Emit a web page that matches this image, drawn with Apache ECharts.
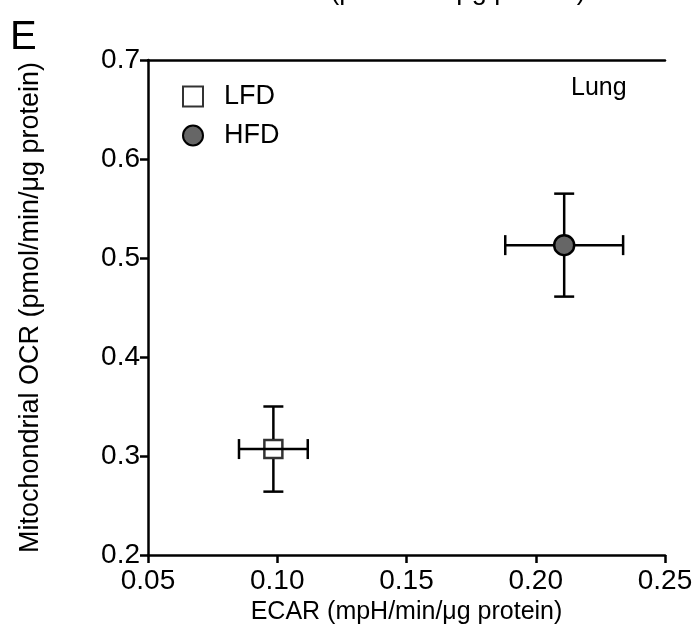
<!DOCTYPE html>
<html>
<head>
<meta charset="utf-8">
<script src="https://cdn.jsdelivr.net/npm/echarts@6/dist/echarts.min.js"></script>
<style>html,body{margin:0;padding:0;background:#fff}#c{width:697px;height:634px}</style>
</head>
<body>
<div id="c"></div>
<script>
// Data
var groups = ['LFD', 'HFD'];
var ecarMean = [0.0985, 0.211];
var ecarErr = [0.0133, 0.0228];
var ocrMean = [0.307, 0.513];
var ocrErr = [0.043, 0.052];
var xTicks = [0.05, 0.10, 0.15, 0.20, 0.25];
var yTicks = [0.2, 0.3, 0.4, 0.5, 0.6, 0.7];

var FONT = 'Liberation Sans, Arial, Helvetica, sans-serif';
var chart = echarts.init(document.getElementById('c'), null, {renderer: 'canvas'});

function errData(i) {
  return [[ecarMean[i], ocrMean[i], ecarErr[i], ocrErr[i]]];
}

function renderErr(params, api) {
  var x = api.value(0), y = api.value(1), xe = api.value(2), ye = api.value(3);
  var c = api.coord([x, y]);
  var l = api.coord([x - xe, y]);
  var r = api.coord([x + xe, y]);
  var t = api.coord([x, y + ye]);
  var b = api.coord([x, y - ye]);
  var cap = 10, gap = 10;
  var st = {stroke: '#000', lineWidth: 2.5};
  return {
    type: 'group',
    children: [
      {type: 'line', shape: {x1: l[0], y1: c[1], x2: r[0], y2: c[1]}, style: st},
      {type: 'line', shape: {x1: c[0], y1: t[1], x2: c[0], y2: c[1] - gap}, style: st},
      {type: 'line', shape: {x1: c[0], y1: c[1] + gap, x2: c[0], y2: b[1]}, style: st},
      {type: 'line', shape: {x1: l[0], y1: c[1] - cap, x2: l[0], y2: c[1] + cap}, style: st},
      {type: 'line', shape: {x1: r[0], y1: c[1] - cap, x2: r[0], y2: c[1] + cap}, style: st},
      {type: 'line', shape: {x1: c[0] - cap, y1: t[1], x2: c[0] + cap, y2: t[1]}, style: st},
      {type: 'line', shape: {x1: c[0] - cap, y1: b[1], x2: c[0] + cap, y2: b[1]}, style: st}
    ]
  };
}

var axisLine = {show: true, lineStyle: {color: '#000', width: 2.5}};
var axisTick = {show: true, inside: false, length: 8, lineStyle: {color: '#000', width: 2.5}};

var option = {
  backgroundColor: '#fff',
  animation: false,
  grid: {left: 148, right: 32, top: 60, bottom: 79, containLabel: false},
  legend: {
    data: groups,
    orient: 'vertical',
    left: 177,
    top: 78,
    itemWidth: 20,
    itemHeight: 20,
    itemGap: 12,
    textStyle: {fontFamily: FONT, fontSize: 27, color: '#000', lineHeight: 26, padding: [0, 0, 0, 16]}
  },
  xAxis: [{
    type: 'value',
    min: 0.05, max: 0.25, interval: 0.05,
    name: 'ECAR (mpH/min/\u03bcg protein)',
    nameLocation: 'middle',
    nameGap: 44,
    nameTextStyle: {fontFamily: FONT, fontSize: 25, color: '#000'},
    axisLine: axisLine,
    axisTick: axisTick,
    splitLine: {show: false},
    axisLabel: {
      fontFamily: FONT, fontSize: 28, color: '#000', margin: 12,
      formatter: function (v) { return v.toFixed(2); }
    }
  }, {
    type: 'value', position: 'top',
    min: 0.05, max: 0.25,
    axisLine: axisLine, axisTick: {show: false}, axisLabel: {show: false}, splitLine: {show: false}
  }],
  yAxis: {
    type: 'value',
    min: 0.2, max: 0.7, interval: 0.1,
    name: 'Mitochondrial OCR (pmol/min/\u03bcg protein)',
    nameLocation: 'middle',
    nameGap: 104,
    nameTextStyle: {fontFamily: FONT, fontSize: 27, color: '#000'},
    axisLine: axisLine,
    axisTick: axisTick,
    splitLine: {show: false},
    axisLabel: {
      fontFamily: FONT, fontSize: 28, color: '#000', margin: 8,
      formatter: function (v) { return v.toFixed(1); }
    }
  },
  graphic: [
    {type: 'text', left: 10, top: 18, style: {text: 'E', font: '40px ' + FONT, fill: '#000'}},
    {type: 'text', x: 458, y: 5, style: {text: '(pmol/min/\u03bcg protein)', font: '27px ' + FONT, fill: '#000', align: 'center', verticalAlign: 'bottom'}},
    {type: 'text', left: 571, top: 76, style: {text: 'Lung', font: '25px ' + FONT, fill: '#000'}}
  ],
  series: [
    {type: 'custom', name: 'LFD err', renderItem: renderErr, data: errData(0), z: 2, clip: false, silent: true},
    {type: 'custom', name: 'HFD err', renderItem: renderErr, data: errData(1), z: 2, clip: false, silent: true},
    {
      type: 'scatter', name: 'LFD', symbol: 'rect', symbolSize: 18, z: 5,
      itemStyle: {color: 'rgba(255,255,255,0)', borderColor: '#000', borderWidth: 2.5},
      data: [[ecarMean[0], ocrMean[0]]]
    },
    {
      type: 'scatter', name: 'HFD', symbol: 'circle', symbolSize: 20, z: 5,
      itemStyle: {color: '#666666', borderColor: '#000', borderWidth: 2.5, opacity: 1},
      data: [[ecarMean[1], ocrMean[1]]]
    }
  ]
};
chart.setOption(option);
</script>
</body>
</html>
